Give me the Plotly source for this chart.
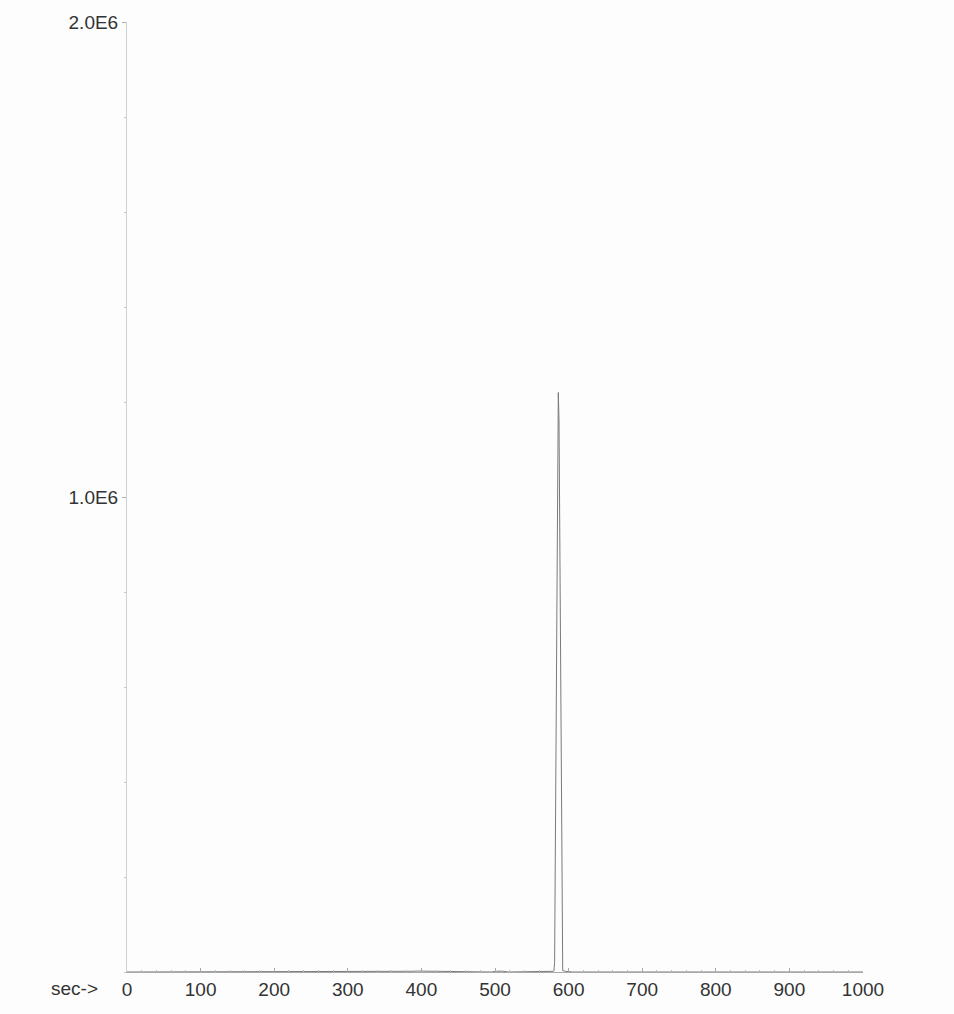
import plotly.graph_objects as go

# Total ion chromatogram: retention time (sec) vs. abundance
time_sec = [0, 100, 238, 242, 248, 255, 262, 300, 375, 385, 395, 405, 415, 425, 435, 445,
            495, 502, 510, 518, 575, 580, 581, 582, 583, 584, 585, 586, 587, 588, 589,
            590, 591, 592, 596, 605, 620, 700, 800, 900, 1000]
abundance = [0, 0, 0, 1200, 1500, 1200, 0, 0, 0, 1500, 2000, 1800, 2200, 1800, 1500, 0,
             0, 1500, 1800, 0, 0, 1500, 20000, 260000, 560000, 860000, 1100000, 1220000,
             1160000, 920000, 620000, 320000, 60000, 3000, 1500, 0, 0, 0, 0, 0, 0]

y_ticks = [1.0e6, 2.0e6]
y_tick_labels = ["1.0E6", "2.0E6"]
x_ticks = [0, 100, 200, 300, 400, 500, 600, 700, 800, 900, 1000]
x_tick_labels = [str(v) for v in x_ticks]

font_family = "Liberation Sans Narrow, Liberation Sans, Arial, sans-serif"
text_color = "#333333"

fig = go.Figure()
fig.add_trace(go.Scatter(
    x=time_sec, y=abundance, mode="lines",
    line=dict(color="#7a7a7a", width=1),
    hoverinfo="x+y", showlegend=False,
))

fig.update_layout(
    width=954, height=1014,
    margin=dict(l=127, r=91, t=18, b=42),
    paper_bgcolor="#fdfdfd", plot_bgcolor="#fdfdfd",
    font=dict(family=font_family, size=19, color=text_color),
    xaxis=dict(
        range=[0, 1000], tickvals=x_ticks, ticktext=x_tick_labels,
        showgrid=False, zeroline=False,
        showline=True, linecolor="#a8a8a8", linewidth=1,
        ticks="inside", ticklen=4, tickcolor="#a8a8a8",
        minor=dict(dtick=20, ticks="inside", ticklen=2, tickcolor="#bbbbbb"),
        tickfont=dict(family=font_family, size=19, color=text_color),
    ),
    yaxis=dict(
        range=[0, 2.0e6], tickvals=y_ticks, ticktext=y_tick_labels,
        showgrid=False, zeroline=False,
        showline=True, linecolor="#d0d0d0", linewidth=1,
        ticks="outside", ticklen=4, tickcolor="#b0b0b0",
        ticklabelstandoff=0,
        minor=dict(dtick=2.0e5, ticks="outside", ticklen=2, tickcolor="#c8c8c8"),
        tickfont=dict(family=font_family, size=19, color=text_color),
    ),
    annotations=[dict(
        text="sec->", xref="paper", yref="paper",
        x=-0.071, y=-0.0175, xanchor="center", yanchor="middle", showarrow=False,
        font=dict(family=font_family, size=19, color=text_color),
    )],
)

fig.write_html("out.html")
